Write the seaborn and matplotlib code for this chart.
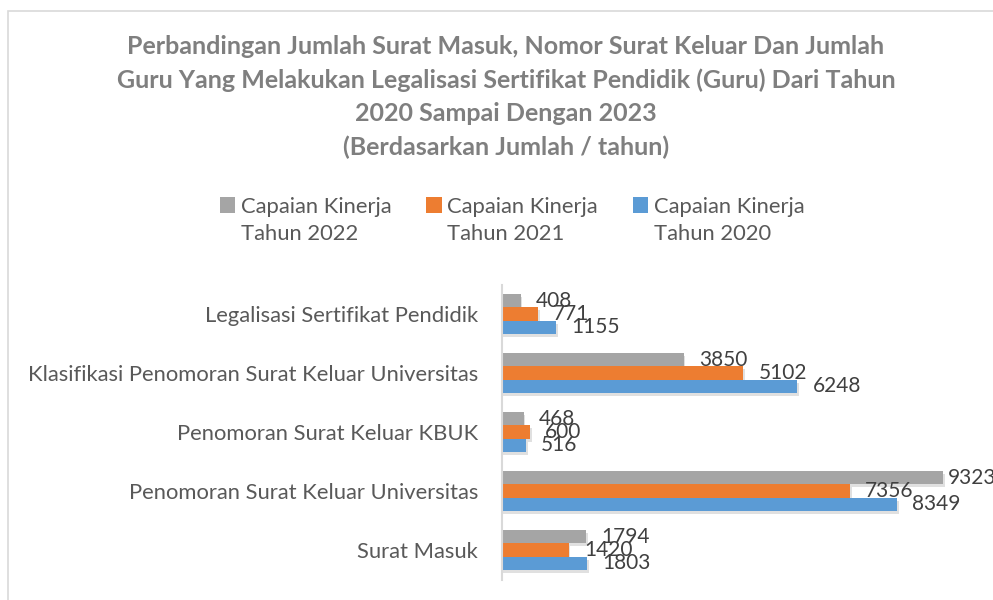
import matplotlib
matplotlib.use("Agg")
import matplotlib.pyplot as plt
import matplotlib.patheffects as pe
from matplotlib.patches import Rectangle, Patch
import seaborn as sns
import pandas as pd

categories = [
    "Legalisasi Sertifikat Pendidik",
    "Klasifikasi Penomoran Surat Keluar Universitas",
    "Penomoran Surat Keluar KBUK",
    "Penomoran Surat Keluar Universitas",
    "Surat Masuk",
]
series_names = ["Capaian Kinerja\nTahun 2022", "Capaian Kinerja\nTahun 2021", "Capaian Kinerja\nTahun 2020"]
values_2022 = [408, 3850, 468, 9323, 1794]
values_2021 = [771, 5102, 600, 7356, 1420]
values_2020 = [1155, 6248, 516, 8349, 1803]
colors = ["#A5A5A5", "#ED7D31", "#5B9BD5"]
title = ("Perbandingan Jumlah Surat Masuk, Nomor Surat Keluar Dan Jumlah\n"
         "Guru Yang Melakukan Legalisasi Sertifikat Pendidik (Guru) Dari Tahun\n"
         "2020 Sampai Dengan 2023\n"
         "(Berdasarkan Jumlah / tahun)")

rows = []
for name, vals in zip(series_names, [values_2022, values_2021, values_2020]):
    for c, v in zip(categories, vals):
        rows.append({"Kategori": c, "Seri": name, "Nilai": v})
df = pd.DataFrame(rows)

sns.set_theme(style="white")
plt.rcParams["font.family"] = ["Lato", "DejaVu Sans"]

W, H = 993, 600
fig = plt.figure(figsize=(W / 100, H / 100), dpi=100)
fig.patch.set_facecolor("white")

# outer chart frame
fig.patches.append(Rectangle((8 / W, -0.1), 1.2, 1 - 11 / H + 0.1, transform=fig.transFigure,
                             fill=False, edgecolor="#D9D9D9", linewidth=1.2, zorder=0))

x0 = 501.5
ax = fig.add_axes([x0 / W, 1 - 579.5 / H, (W - x0) / W, (579.5 - 284.5) / H])
sns.barplot(data=df, y="Kategori", x="Nilai", hue="Seri", hue_order=series_names,
            order=categories, palette=colors, orient="h", width=0.68, gap=0,
            saturation=1, ax=ax, legend=False, errorbar=None)

px_per_unit = 441.5 / 9323
xmax = (W - x0) / px_per_unit
ax.set_xlim(0, xmax)
ax.set_ylim(4.5, -0.5)

shadow = [pe.SimplePatchShadow(offset=(1.2, -2.2), shadow_rgbFace="black", alpha=0.12), pe.Normal()]
for cont in ax.containers:
    for bar in cont:
        bar.set_path_effects(shadow)
        bar.set_edgecolor("none")
    anns = ax.bar_label(cont, fmt="%d", padding=11, fontsize=15, color="#404040")
    for bar, ann in zip(cont, anns):
        if bar.get_width() > 0.85 * xmax:
            ann.xyann = (3.5, 0)

for s in ["top", "right", "bottom"]:
    ax.spines[s].set_visible(False)
ax.spines["left"].set_color("#D9D9D9")
ax.spines["left"].set_linewidth(1.5)
ax.set_xticks([])
ax.set_xlabel("")
ax.set_ylabel("")
ax.tick_params(axis="y", length=0, pad=17, labelsize=15.8, labelcolor="#595959")
ax.patch.set_alpha(0)

fig.text(506 / W, 1 - 35 / H, title, ha="center", va="top", fontsize=18,
         fontweight="bold", color="#7F7F7F", linespacing=1.53)

# legend: square on first line of each entry
handles, labels = [], []
for name, col in zip(series_names, colors):
    l1, l2 = name.split("\n")
    handles.append(Patch(facecolor=col, edgecolor="none"))
    labels.append(l1)
    handles.append(Patch(facecolor="none", edgecolor="none"))
    labels.append(l2)
fig.legend(handles, labels, ncol=3, loc="upper left", bbox_to_anchor=(200 / W, 1 - 177 / H),
           frameon=False, fontsize=15.8, labelcolor="#595959", handlelength=0.7, handleheight=0.7,
           handletextpad=0.25, columnspacing=1.6, labelspacing=0.33)

fig.savefig("out.png", dpi=100)
